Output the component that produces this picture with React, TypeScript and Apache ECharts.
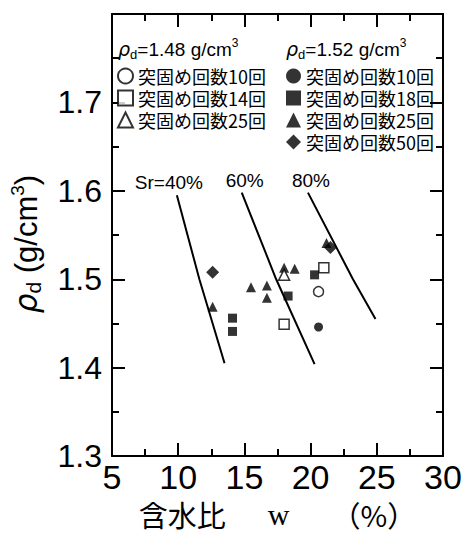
import React, { useEffect, useRef } from 'react';
import * as echarts from 'echarts';

// Axis ticks (labels)
const xMin = 5;
const xMax = 30;
const xStep = 5;
const yMin = 1.3;
const yMax = 1.8;
const yStep = 0.1;

// Legend texts
const headerOpen = '1.48';
const headerFilled = '1.52';
const openNames = ['o10', 'o14', 'o25'];
const openLabels = ['突固め回数10回', '突固め回数14回', '突固め回数25回'];
const filledNames = ['f10', 'f18', 'f25', 'f50'];
const filledLabels = ['突固め回数10回', '突固め回数18回', '突固め回数25回', '突固め回数50回'];

// ρd = 1.48 g/cm3 (open symbols): [w (%), ρd (g/cm3)]
const open10 = [[20.6, 1.486]];
const open14 = [[18.0, 1.449], [21.0, 1.513]];
const open25 = [[18.0, 1.505]];

// ρd = 1.52 g/cm3 (filled symbols)
const filled10 = [[20.6, 1.446]];
const filled18 = [[14.1, 1.456], [14.1, 1.441], [18.3, 1.481], [20.3, 1.505]];
const filled25 = [[12.6, 1.469], [15.5, 1.491], [16.7, 1.493], [16.7, 1.479], [18.0, 1.513], [18.8, 1.512], [21.2, 1.541]];
const filled50 = [[12.6, 1.508], [21.5, 1.536]];

// Saturation lines
const srLabels = ['Sr=40%', '60%', '80%'];
const sr40 = [[9.9, 1.595], [11.6, 1.5], [13.5, 1.405]];
const sr60 = [[14.8, 1.598], [17.4, 1.5], [20.3, 1.404]];
const sr80 = [[19.8, 1.598], [23.2, 1.5], [24.9, 1.455]];

const SANS = 'Liberation Sans, Arial, sans-serif';
const CJK = 'Noto Sans CJK JP, sans-serif';

export default function App() {
  const ref = useRef<HTMLDivElement>(null);

  useEffect(() => {
    if (!ref.current) return;
    const chart = echarts.init(ref.current, undefined, { renderer: 'svg' });

    const labelMap: Record<string, string> = {};
    openNames.forEach((n, i) => (labelMap[n] = openLabels[i]));
    filledNames.forEach((n, i) => (labelMap[n] = filledLabels[i]));

    const openStyle = { color: '#fff', borderColor: '#000', borderWidth: 1.5 };
    const filledStyle = { color: '#000', borderColor: '#000', borderWidth: 0 };

    const srLine = (name: string, data: number[][], label: string, offset: number[]) => ({
      type: 'line',
      name,
      data: data.map((d, i) =>
        i === 0
          ? {
              value: d,
              label: {
                show: true,
                formatter: label,
                position: 'top',
                offset,
                fontFamily: SANS,
                fontSize: 19,
                color: '#000',
              },
            }
          : { value: d }
      ),
      symbol: 'circle',
      symbolSize: 0,
      showSymbol: true,
      lineStyle: { color: '#000', width: 2 },
      itemStyle: { color: '#000' },
      z: 2,
      silent: true,
    });

    const axisCommon = {
      type: 'value',
      axisLine: { show: true, onZero: false, lineStyle: { color: '#000', width: 2 } },
      axisTick: { show: true, inside: true, length: 13, lineStyle: { color: '#000', width: 2 } },
      minorTick: { show: true, splitNumber: 2, length: 7, lineStyle: { color: '#000', width: 2 } },
      splitLine: { show: false },
      minorSplitLine: { show: false },
    };

    const rich = (size: number) => ({
      r: { fontFamily: 'DejaVu Sans', fontStyle: 'italic', fontSize: size, verticalAlign: 'middle', color: '#000' },
      s: { fontFamily: SANS, fontSize: Math.round(size * 0.68), verticalAlign: 'bottom', color: '#000' },
      n: { fontFamily: SANS, fontSize: size, verticalAlign: 'middle', color: '#000' },
      p: { fontFamily: SANS, fontSize: Math.round(size * 0.62), verticalAlign: 'top', color: '#000' },
    });

    const legendCommon = {
      orient: 'vertical',
      top: 66,
      padding: 0,
      itemWidth: 15,
      itemHeight: 15,
      itemGap: 2,
      selectedMode: false,
      formatter: (n: string) => labelMap[n],
      textStyle: { fontFamily: CJK, fontSize: 18, lineHeight: 20, color: '#000' },
    };

    chart.setOption({
      animation: false,
      backgroundColor: '#fff',
      grid: { left: 103, right: 23, top: 14, bottom: 70 },
      xAxis: [
        {
          ...axisCommon,
          position: 'bottom',
          min: xMin,
          max: xMax,
          interval: xStep,
          axisLabel: { show: true, margin: 4, fontFamily: SANS, fontSize: 34, color: '#000' },
          name: '{c|含水比}{w|w}{c|（%）}',
          nameLocation: 'middle',
          nameGap: 34,
          nameTextStyle: {
            lineHeight: 28,
            rich: {
              c: { fontFamily: CJK, fontSize: 29, lineHeight: 28, color: '#000' },
              w: { fontFamily: 'Liberation Serif, serif', fontSize: 30, lineHeight: 28, color: '#000', padding: [0, 42, 0, 42] },
            },
          },
        },
        {
          ...axisCommon,
          position: 'top',
          min: xMin,
          max: xMax,
          interval: xStep,
          axisLabel: { show: false },
        },
      ],
      yAxis: [
        {
          ...axisCommon,
          position: 'left',
          min: yMin,
          max: yMax,
          interval: yStep,
          axisLabel: {
            show: true,
            margin: 10,
            fontFamily: SANS,
            fontSize: 32,
            color: '#000',
            formatter: (v: number) => (v > yMax - 0.01 ? '' : v.toFixed(1)),
          },
          name: '{r|ρ}{s|d}{n| (g/cm}{p|3}{n|)}',
          nameLocation: 'middle',
          nameGap: 68,
          nameRotate: 90,
          nameTextStyle: { lineHeight: 36, padding: [0, 18, 0, 0], rich: rich(31) },
        },
        {
          ...axisCommon,
          position: 'right',
          min: yMin,
          max: yMax,
          interval: yStep,
          axisLabel: { show: false },
        },
      ],
      legend: [
        { ...legendCommon, data: openNames, left: 117 },
        { ...legendCommon, data: filledNames, left: 286 },
      ],
      graphic: [
        {
          type: 'text',
          left: 118,
          top: 37,
          style: { text: `{r|ρ}{s|d}{n|=${headerOpen} g/cm}{p|3}`, lineHeight: 24, rich: rich(19) },
        },
        {
          type: 'text',
          left: 286,
          top: 37,
          style: { text: `{r|ρ}{s|d}{n|=${headerFilled} g/cm}{p|3}`, lineHeight: 24, rich: rich(19) },
        },
      ],
      series: [
        srLine('sr40', sr40, srLabels[0], [-8, 2]),
        srLine('sr60', sr60, srLabels[1], [3, 2]),
        srLine('sr80', sr80, srLabels[2], [3, 2]),
        { type: 'scatter', name: 'o10', data: open10, symbol: 'circle', symbolSize: 10, itemStyle: openStyle, z: 3 },
        { type: 'scatter', name: 'o14', data: open14, symbol: 'rect', symbolSize: 10, itemStyle: openStyle, z: 3 },
        { type: 'scatter', name: 'o25', data: open25, symbol: 'triangle', symbolSize: 11, itemStyle: openStyle, z: 4 },
        { type: 'scatter', name: 'f10', data: filled10, symbol: 'circle', symbolSize: 9, itemStyle: filledStyle, z: 3 },
        { type: 'scatter', name: 'f18', data: filled18, symbol: 'rect', symbolSize: 9, itemStyle: filledStyle, z: 3 },
        { type: 'scatter', name: 'f25', data: filled25, symbol: 'triangle', symbolSize: 10, itemStyle: filledStyle, z: 3 },
        { type: 'scatter', name: 'f50', data: filled50, symbol: 'diamond', symbolSize: 13, itemStyle: filledStyle, z: 3 },
      ],
    });

    return () => chart.dispose();
  }, []);

  return (
    <div
      ref={ref}
      style={{ position: 'absolute', left: 0, top: 0, width: 466, height: 534, background: '#fff' }}
    />
  );
}
